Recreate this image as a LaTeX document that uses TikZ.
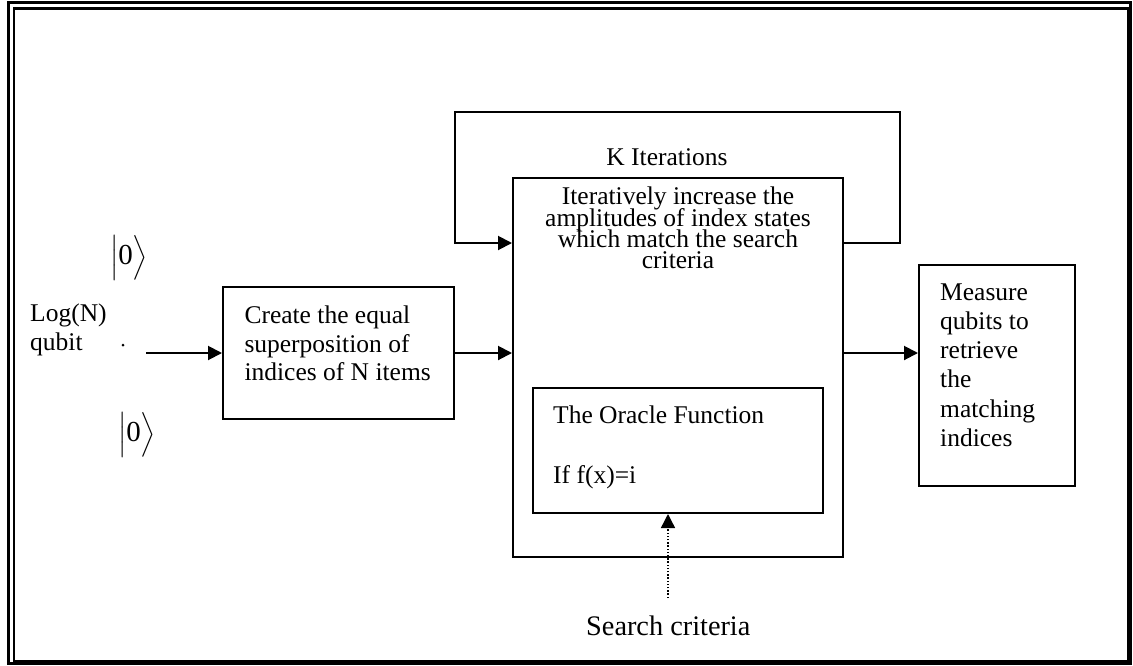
\documentclass[tikz,border=0pt]{standalone}
\usepackage{amsmath}
\usepackage{fontspec}
\setmainfont{Liberation Serif}
\usetikzlibrary{arrows.meta}
\newcommand\tightlines{\lineskiplimit=-50pt\relax}

\begin{document}
\begin{tikzpicture}[x=1pt,y=-1pt,
    box/.style={draw,line width=2pt,inner sep=0pt},
    flow/.style={line width=2pt,-{Triangle[length=14pt,width=14pt]}},
    lbl/.style={inner sep=0pt,font=\fontsize{25.5}{29}\selectfont}]
    \useasboundingbox (0,0) rectangle (1133,665);
    % page frame
    \draw [line width=3pt] (8.5,2) rectangle (1130,663);
    \draw [line width=2.5pt] (14,8.3) rectangle (1128,661);

    % blocks
    \node [box,minimum width=231pt,minimum height=132pt] (prep) at (338.5,353) {};
    \node [box,minimum width=330pt,minimum height=379pt] (iter) at (678,367.5) {};
    \node [box,minimum width=290pt,minimum height=125pt] (orc) at (678,450.5) {};
    \node [box,minimum width=156pt,minimum height=221pt] (meas) at (997,375.5) {};

    % texts
    \node [lbl,anchor=north west,align=left] (logn) at (30,303.8) {Log(N)\\qubit};
    \node [lbl,anchor=base west,font=\fontsize{29}{29}\selectfont] (ketup) at (110,264) {$\Bigl|\mbox{0}\Bigr\rangle$};
    \node [lbl,anchor=base west,font=\fontsize{29}{29}\selectfont] (ketdn) at (118,441) {$\Bigl|\mbox{0}\Bigr\rangle$};
    \node [circle,fill,inner sep=0pt,minimum size=3pt] (dot) at (123,345) {};
    \node [lbl,anchor=north west,align=left,font=\fontsize{25.5}{28.7}\selectfont] (preptxt) at (244.3,305.6)
        {Create the equal\\superposition of\\indices of N items};
    \node [lbl,anchor=base] (kit) at (667,165) {K Iterations};
    \node [lbl,anchor=north,align=center,font=\fontsize{25.5}{21.3}\selectfont\tightlines] (itertxt) at (678,187)
        {Iteratively increase the\\amplitudes of index states\\which match the search\\criteria};
    \node [lbl,anchor=north west,align=left] (orctxt) at (553,405.3)
        {The Oracle Function\\[31pt]If f(x)=i};
    \node [lbl,anchor=north west,align=left,font=\fontsize{25.5}{29.3}\selectfont] (meastxt) at (940,283.1)
        {Measure\\qubits to\\retrieve\\the\\matching\\indices};
    \node [lbl,anchor=base west,font=\fontsize{28.3}{30}\selectfont] (crit) at (586,635) {Search criteria};

    % connectors
    \coordinate (qin) at (146,353);
    \coordinate (loopin) at (455,243);
    \coordinate (loopout) at (900,243);
    \coordinate (loopnw) at (455,112);
    \coordinate (loopne) at (900,112);
    \coordinate (critin) at (668,598);
    \draw [flow] (qin) -- (qin -| prep.west);
    \draw [flow] (prep.east) -- (prep.east -| iter.west);
    \draw [flow] (prep.east -| iter.east) -- (prep.east -| meas.west);
    \draw [flow] (loopout -| iter.east) -- (loopout) -- (loopne) -- (loopnw) -- (loopin) -- (loopin -| iter.west);
    \draw [line width=1.4pt,dash pattern=on 1.4pt off 1.8pt,-{Triangle[length=14pt,width=14pt]}] (critin) -- (critin |- orc.south);
\end{tikzpicture}
\end{document}
